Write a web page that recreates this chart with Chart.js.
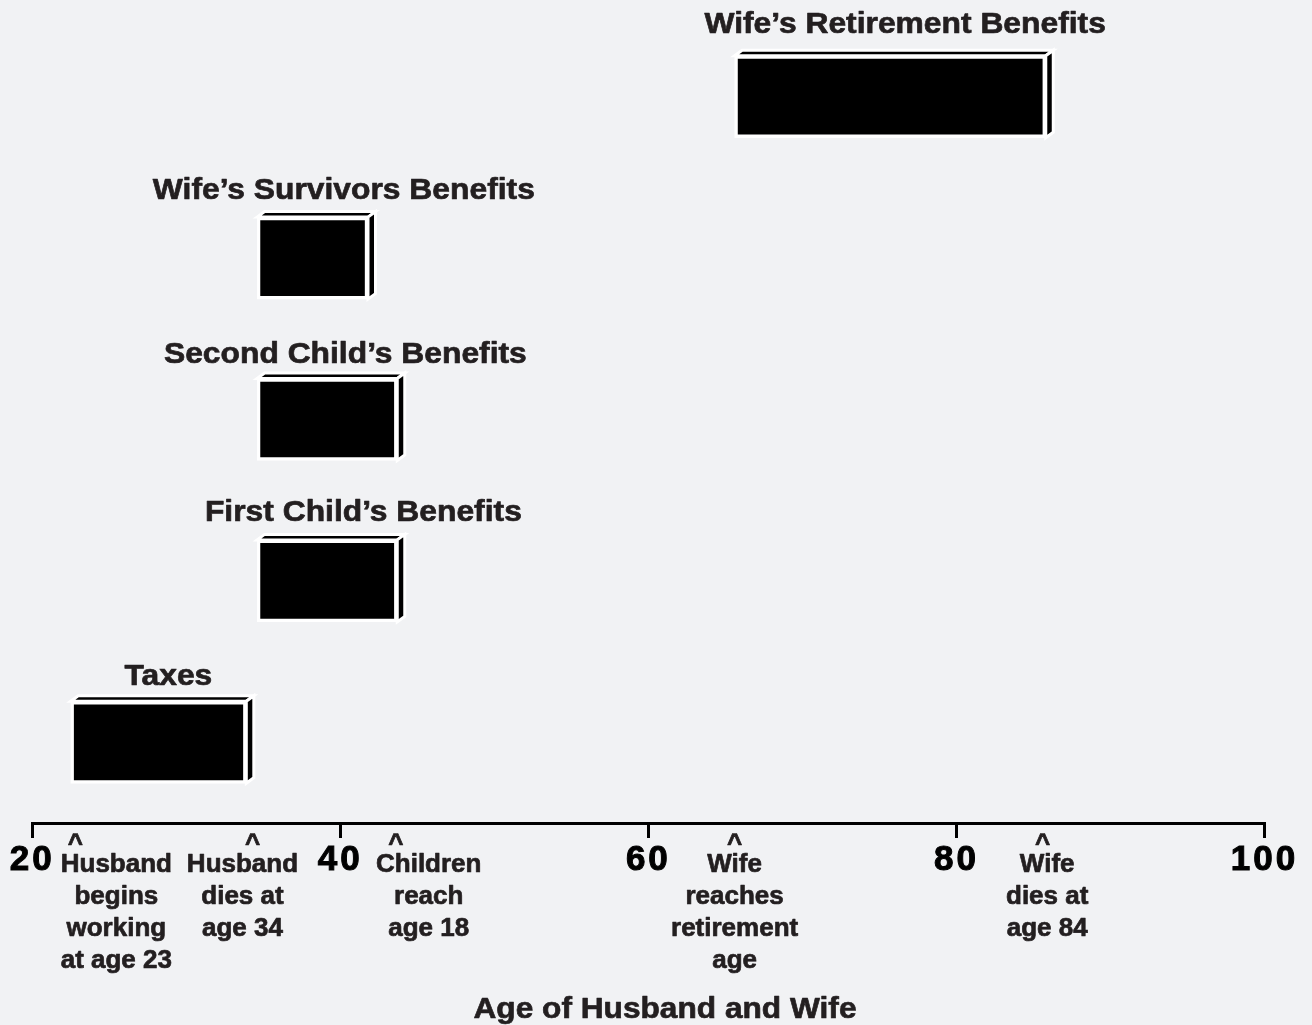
<!DOCTYPE html>
<html><head><meta charset="utf-8">
<script src="https://cdn.jsdelivr.net/npm/chart.js@4.4.1/dist/chart.umd.min.js"></script>
<style>html,body{margin:0;padding:0;background:#f1f2f4;} canvas{display:block;}</style>
</head><body>
<canvas id="c" width="1312" height="1025" style="width:1312px;height:1025px"></canvas>
<script>
const categories = ["Wife\u2019s Retirement Benefits", "Wife\u2019s Survivors Benefits", "Second Child\u2019s Benefits", "First Child\u2019s Benefits", "Taxes"];
const startAges = [65.6, 34.6, 34.6, 34.6, 22.5];
const endAges = [85.8, 41.8, 43.7, 43.7, 33.9];
const xTickValues = [20, 40, 60, 80, 100];
const eventAges = [22.8, 34.3, 43.6, 65.6, 85.6];
const eventLabels = [
  ["Husband", "begins", "working", "at age 23"],
  ["Husband", "dies at", "age 34"],
  ["Children", "reach", "age 18"],
  ["Wife", "reaches", "retirement", "age"],
  ["Wife", "dies at", "age 84"]
];
const axisTitle = "Age of Husband and Wife";

const FONT = "'Liberation Sans', Arial, Helvetica, sans-serif";
const TEXT = '#231f20';

function stretchedText(ctx, text, x, y, size, sx) {
  ctx.save();
  ctx.letterSpacing = '0px';
  ctx.font = 'bold ' + size + 'px ' + FONT;
  ctx.fillStyle = TEXT;
  ctx.strokeStyle = TEXT;
  ctx.lineWidth = 0.7;
  ctx.lineJoin = 'round';
  ctx.textAlign = 'center';
  ctx.textBaseline = 'alphabetic';
  ctx.translate(x, y);
  ctx.scale(sx, 1);
  ctx.fillText(text, 0, 0);
  ctx.strokeText(text, 0, 0);
  ctx.restore();
}

const boxPlugin = {
  id: 'box3d',
  beforeDraw(chart) { chart.ctx.letterSpacing = '3px'; },
  beforeDatasetsDraw(chart, args, opts) {
    const ctx = chart.ctx;
    ctx.letterSpacing = '0px';
    const meta = chart.getDatasetMeta(0);
    meta.data.forEach(bar => {
      const p = bar.getProps(['x', 'y', 'base', 'height'], true);
      const left = Math.min(p.x, p.base), right = Math.max(p.x, p.base);
      const top = p.y - p.height / 2, bottom = p.y + p.height / 2;
      const d = opts.depthX, e = opts.depthY;
      ctx.save();
      ctx.fillStyle = '#000'; ctx.strokeStyle = '#fff'; ctx.lineWidth = opts.edge; ctx.lineJoin = 'miter';
      ctx.beginPath(); ctx.moveTo(left, top); ctx.lineTo(left + d, top - e); ctx.lineTo(right + d, top - e); ctx.lineTo(right, top); ctx.closePath(); ctx.fill(); ctx.stroke();
      ctx.beginPath(); ctx.moveTo(right, top); ctx.lineTo(right + d, top - e); ctx.lineTo(right + d, bottom - e); ctx.lineTo(right, bottom); ctx.closePath(); ctx.fill(); ctx.stroke();
      ctx.restore();
    });
  },
  afterDatasetsDraw(chart, args, opts) {
    const ctx = chart.ctx;
    const xs = chart.scales.x;
    const meta = chart.getDatasetMeta(0);
    meta.data.forEach((bar, i) => {
      const p = bar.getProps(['y'], true);
      stretchedText(ctx, categories[i], xs.getPixelForValue(opts.labelCenters[i]), p.y + opts.labelRise[i], 30, 1.06);
    });
  },
  afterDraw(chart, args, opts) {
    const ctx = chart.ctx;
    const xs = chart.scales.x;
    const axisY = xs.top;
    eventAges.forEach((age, i) => {
      const cx = xs.getPixelForValue(age);
      stretchedText(ctx, '^', cx, axisY + 29, 26, 1);
      eventLabels[i].forEach((line, k) => {
        stretchedText(ctx, line, cx + opts.eventDx[i], axisY + 48.5 + 32 * k, 26, 1);
      });
    });
    stretchedText(ctx, axisTitle, opts.titleX, axisY + 195.3, 30, 1.055);
    ctx.letterSpacing = '0px';
  }
};

new Chart(document.getElementById('c'), {
  type: 'bar',
  data: {
    labels: categories,
    datasets: [{
      data: categories.map((_, i) => [startAges[i], endAges[i]]),
      backgroundColor: '#000',
      borderColor: '#fff',
      borderWidth: 3.5,
      borderSkipped: false,
      barThickness: 82
    }]
  },
  options: {
    indexAxis: 'y',
    responsive: false,
    animation: false,
    layout: { padding: { top: 16, left: 32.2, right: 47.5, bottom: 0 } },
    plugins: {
      legend: { display: false },
      tooltip: { enabled: false },
      box3d: {
        depthX: 7.5, depthY: 5.5, edge: 3,
        labelCenters: [76.67, 40.23, 40.33, 41.5, 28.84],
        labelRise: [-64, -59, -57, -60, -57],
        eventDx: [41, -10, 33, 0, 4.5],
        titleX: 665
      }
    },
    scales: {
      x: {
        type: 'linear', min: 20, max: 100, position: 'bottom',
        afterBuildTicks: s => { s.ticks = xTickValues.map(v => ({ value: v })); },
        afterFit: s => { s.height = 202; s.paddingLeft = 0; s.paddingRight = 0; },
        ticks: { font: { family: FONT, size: 35, weight: 'bold' }, color: '#000', padding: 1, maxRotation: 0, autoSkip: false, textStrokeColor: '#000', textStrokeWidth: 1 },
        grid: { drawOnChartArea: false, drawTicks: true, tickLength: 15, lineWidth: 3, color: '#000' },
        border: { display: true, width: 3, color: '#000' }
      },
      y: { type: 'category', display: false, offset: true }
    }
  },
  plugins: [boxPlugin]
});
</script>
</body></html>
